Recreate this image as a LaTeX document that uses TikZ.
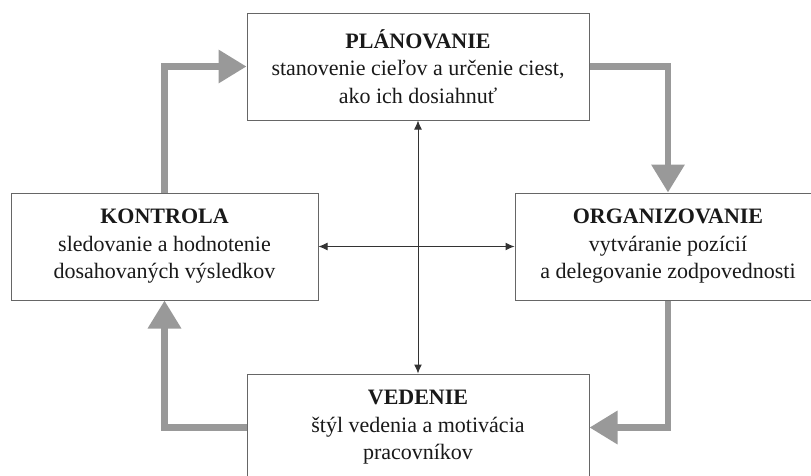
\documentclass[tikz,border=0pt]{standalone}
\usepackage{fontspec}
\setmainfont{Liberation Serif}
\usetikzlibrary{arrows.meta}

\begin{document}
\begin{tikzpicture}[x=1pt, y=-1pt,
        boxstyle/.style={draw=black!60, line width=1pt, fill=white, minimum width=342pt, minimum height=107pt,
            inner sep=0pt, align=center, text=black!90, font=\fontsize{22}{27.5}\selectfont},
        cyclearrow/.style={draw=black!40, line width=6.5pt, -{Triangle[length=28pt, width=32pt]}},
        linkarrow/.style={draw=black!80, line width=1pt, {Latex[length=9pt, width=8pt]}-{Latex[length=9pt, width=8pt]}}]
        \useasboundingbox (0,0) rectangle (811,475);
        \node[boxstyle] (plan) at (418,66.5) {\textbf{PLÁNOVANIE}\\stanovenie cieľov a určenie ciest,\\ako ich dosiahnuť};
        \node[boxstyle, minimum width=307pt] (ctrl) at (164.5,246.5) {\textbf{KONTROLA}\\sledovanie a hodnotenie\\dosahovaných výsledkov};
        \node[boxstyle, minimum width=306pt] (org) at (668,246.5) {\textbf{ORGANIZOVANIE}\\vytváranie pozícií\\a delegovanie zodpovednosti};
        \node[boxstyle] (lead) at (418,427.5) {\textbf{VEDENIE}\\štýl vedenia a motivácia\\pracovníkov};
        % cyklus
        \draw[cyclearrow] (ctrl.north) |- (plan.west);
        \draw[cyclearrow] (plan.east) -| (org.north);
        \draw[cyclearrow] (org.south) |- (lead.east);
        \draw[cyclearrow] (lead.west) -| (ctrl.south);
        % prepojenia
        \draw[linkarrow] (plan.south) -- (lead.north);
        \draw[linkarrow] (ctrl.east) -- (org.west);
    \end{tikzpicture}
\end{document}
